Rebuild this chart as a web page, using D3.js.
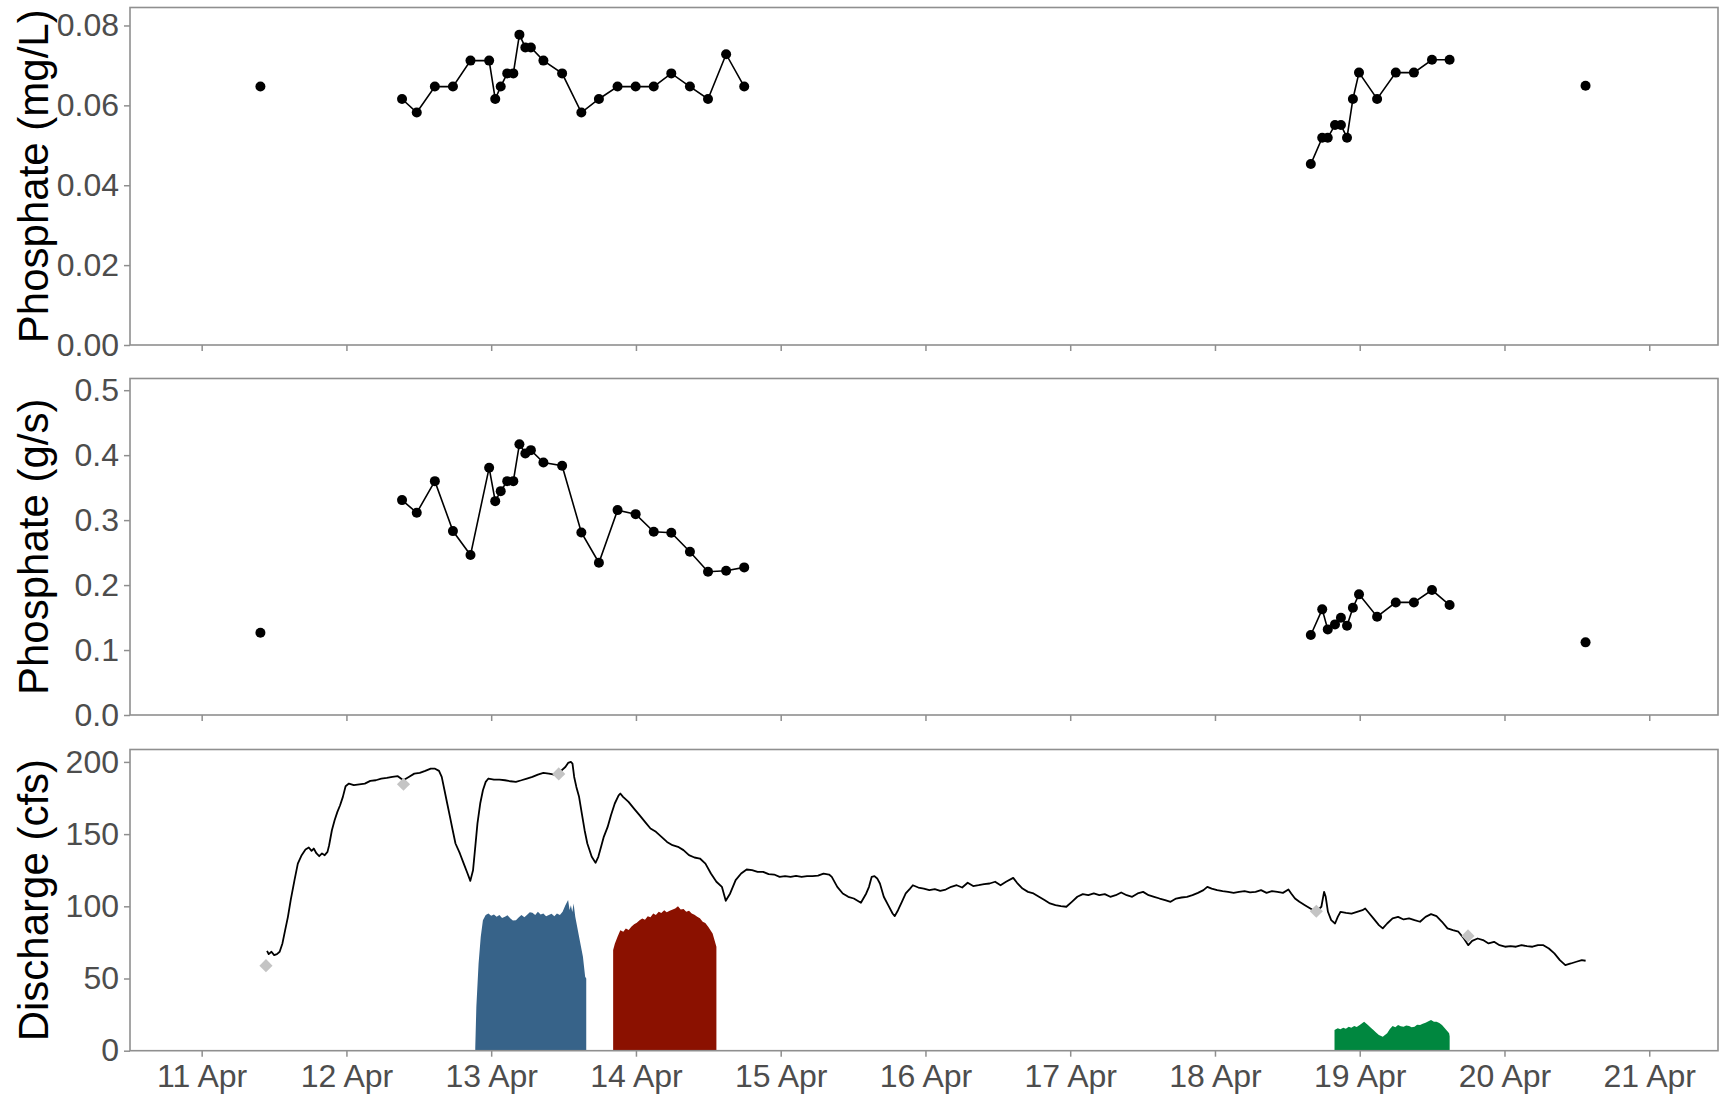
<!DOCTYPE html>
<html>
<head>
<meta charset="utf-8">
<script src="https://cdn.jsdelivr.net/npm/d3@7"></script>
<style>
  body { margin: 0; background: #fff; }
  svg text { font-family: "Liberation Sans", Arial, Helvetica, sans-serif; }
</style>
</head>
<body>
<svg id="chart" width="1720" height="1097"></svg>
<script>
// ---- time reference: all times are hours after 11 Apr 00:00 ----
const baseTime = new Date(2019, 3, 11, 0, 0);
const xStart = new Date(2019, 3, 10, 12, 7);
const xEnd = new Date(2019, 3, 21, 11, 24);
const tickDays = [11, 12, 13, 14, 15, 16, 17, 18, 19, 20, 21];

// ---- grab samples ----
const sampleHours = [
  9.74,
  33.22, 35.66, 38.66, 41.66, 44.57, 47.66, 48.67, 49.58, 50.66, 51.67, 52.68, 53.66,
  54.58, 56.66, 59.76, 62.95, 65.86, 68.95, 71.95, 74.95, 77.86, 80.95, 83.95, 86.95, 89.95,
  183.89, 185.78, 186.70, 187.90, 188.88, 189.89, 190.87, 191.88, 194.88, 197.98, 200.98, 203.98, 206.90,
  229.44
];
// which connected run each sample belongs to
const sampleRun = [
  0,
  1, 1, 1, 1, 1, 1, 1, 1, 1, 1, 1, 1, 1, 1, 1, 1, 1, 1, 1, 1, 1, 1, 1, 1, 1,
  2, 2, 2, 2, 2, 2, 2, 2, 2, 2, 2, 2, 2,
  3
];
const phosphateConc = [
  0.0647,
  0.0616, 0.0582, 0.0647, 0.0647, 0.0712, 0.0712, 0.0616, 0.0647, 0.0680, 0.0680, 0.0777, 0.0745,
  0.0745, 0.0712, 0.0680, 0.0582, 0.0616, 0.0647, 0.0647, 0.0647, 0.0680, 0.0647, 0.0616, 0.0728, 0.0647,
  0.0453, 0.0519, 0.0519, 0.0551, 0.0551, 0.0519, 0.0616, 0.0682, 0.0616, 0.0682, 0.0682, 0.0714, 0.0714,
  0.0649
];
const phosphateLoad = [
  0.1266,
  0.3308, 0.3113, 0.3600, 0.2831, 0.2462, 0.3805, 0.3292, 0.3446, 0.3600, 0.3600, 0.4169, 0.4026,
  0.4077, 0.3887, 0.3836, 0.2810, 0.2344, 0.3154, 0.3092, 0.2820, 0.2805, 0.2513, 0.2205, 0.2220, 0.2272,
  0.1231, 0.1626, 0.1318, 0.1395, 0.1497, 0.1374, 0.1651, 0.1857, 0.1513, 0.1733, 0.1733, 0.1923, 0.1692,
  0.1118
];

// ---- stream discharge record ----
const dischargeHours = [
  10.84, 11.11, 11.57, 12.02, 12.48, 12.93, 13.39, 13.84, 14.30, 14.76, 15.39, 15.94, 16.58, 17.21, 17.76,
  18.22, 18.58, 19.04, 19.49, 19.95, 20.40, 20.86, 21.13, 21.59, 22.04, 22.50, 22.95, 23.41, 23.86, 24.41,
  25.23, 26.14, 27.05, 27.96, 28.87, 29.78, 30.70, 31.61, 32.52, 33.43, 34.34, 35.25, 36.16, 37.07, 37.98,
  38.62, 39.35, 39.80, 40.26, 40.71, 41.17, 41.62, 42.08, 42.81, 43.45, 44.08, 44.54, 44.99, 45.36, 45.72,
  46.18, 46.63, 47.09, 47.54, 48.46, 49.37, 50.28, 51.19, 52.10, 53.01, 53.92, 54.83, 55.74, 56.65, 57.56,
  58.47, 59.39, 60.30, 60.75, 61.21, 61.48, 61.76, 62.12, 62.57, 63.03, 63.49, 63.94, 64.67, 65.30, 65.76,
  66.22, 66.67, 67.31, 67.86, 68.49, 69.13, 69.41, 69.86, 70.77, 71.68, 72.59, 73.50, 74.41, 75.32, 76.24,
  77.15, 78.06, 78.97, 79.88, 80.79, 81.70, 82.61, 83.52, 84.43, 85.34, 86.25, 86.89, 87.62, 88.53, 89.44,
  90.35, 91.26, 92.17, 93.09, 94.00, 94.91, 95.82, 96.73, 97.64, 98.55, 99.46, 100.37, 101.28, 102.19, 103.10,
  104.02, 104.47, 105.38, 106.29, 107.20, 108.12, 109.30, 110.18, 110.64, 111.09, 111.55, 112.00, 112.45, 113.09, 113.82,
  114.55, 114.91, 115.45, 116.09, 116.73, 117.45, 117.91, 118.82, 119.73, 120.64, 121.55, 122.45, 123.36, 124.27, 125.18,
  126.09, 127.00, 127.91, 128.82, 129.73, 130.64, 131.55, 132.45, 133.36, 134.55, 135.18, 136.09, 137.00, 137.91, 138.82,
  139.73, 140.64, 141.55, 142.45, 143.36, 144.27, 145.18, 146.09, 147.00, 147.91, 148.82, 149.73, 150.64, 151.55, 152.45,
  153.36, 154.27, 155.18, 156.09, 157.00, 157.91, 158.82, 159.73, 160.64, 161.55, 162.45, 163.36, 164.27, 165.18, 166.09,
  166.73, 167.45, 168.36, 169.27, 170.18, 171.09, 172.00, 172.91, 173.82, 174.73, 175.64, 176.55, 177.45, 178.36, 179.27,
  180.18, 180.64, 181.27, 182.00, 182.91, 183.82, 184.73, 185.64, 186.09, 186.36, 186.73, 187.27, 187.91, 188.36, 188.82,
  189.73, 190.64, 191.55, 192.45, 192.91, 193.36, 194.27, 195.18, 195.82, 196.55, 197.45, 198.36, 199.27, 200.18, 201.09,
  202.00, 202.91, 203.82, 204.73, 205.64, 206.55, 207.45, 208.36, 209.27, 210.00, 210.64, 211.55, 212.45, 213.36, 214.27,
  215.18, 216.09, 217.00, 217.91, 218.82, 219.73, 220.64, 221.55, 222.45, 223.36, 224.27, 225.18, 226.09, 227.00, 227.91,
  228.82, 229.45
];
const dischargeCfs = [
  69.2, 66.9, 68.5, 66.2, 66.9, 68.5, 74.3, 83.5, 92.7, 104.3, 118.1, 129.6, 135.4, 139.3, 140.7,
  138.4, 140.0, 136.6, 134.7, 136.6, 135.4, 137.7, 142.3, 152.7, 159.6, 165.4, 170.0, 175.8, 183.2, 185.0,
  183.9, 184.5, 185.0, 186.9, 187.3, 188.5, 188.9, 189.6, 190.1, 187.3, 189.6, 191.9, 192.4, 193.8, 195.4,
  195.4, 193.8, 189.6, 180.4, 171.2, 161.9, 152.7, 143.5, 136.6, 129.6, 122.7, 117.6, 125.0, 141.2, 157.3,
  171.2, 180.4, 186.2, 188.5, 187.8, 187.8, 187.3, 186.6, 186.2, 187.3, 188.5, 189.6, 191.2, 192.4, 191.9,
  191.2, 193.1, 196.5, 199.3, 200.0, 198.8, 189.6, 182.7, 175.8, 164.2, 152.7, 143.5, 134.3, 130.1, 134.3,
  141.2, 148.1, 155.0, 163.1, 171.2, 176.9, 178.1, 175.8, 172.3, 167.7, 163.1, 158.5, 153.9, 151.6, 148.1,
  144.6, 142.3, 141.2, 138.9, 135.4, 133.8, 133.1, 129.6, 122.7, 117.0, 113.5, 103.8, 108.9, 118.1, 122.7,
  125.5, 125.0, 123.9, 123.9, 122.3, 122.0, 120.4, 120.9, 120.4, 121.1, 120.4, 120.9, 120.9, 121.3, 122.7,
  122.0, 120.4, 113.5, 108.9, 106.6, 105.4, 102.5, 108.9, 113.5, 120.4, 120.9, 119.3, 115.8, 106.6, 100.8,
  95.0, 93.2, 97.3, 103.1, 108.9, 112.3, 114.6, 113.0, 112.3, 111.2, 111.9, 110.7, 111.6, 113.5, 114.6,
  113.0, 116.3, 114.0, 114.6, 115.3, 115.8, 117.0, 114.6, 117.0, 119.7, 116.3, 112.3, 110.0, 108.9, 106.6,
  104.3, 102.0, 100.8, 100.1, 99.7, 103.1, 106.6, 108.4, 107.7, 108.9, 107.7, 108.4, 106.6, 107.7, 109.6,
  107.7, 106.6, 108.9, 110.0, 107.7, 106.6, 105.4, 104.3, 103.1, 105.4, 106.1, 106.6, 107.7, 109.3, 111.2,
  113.5, 112.3, 111.2, 110.5, 110.0, 109.3, 110.0, 110.5, 109.6, 110.0, 111.2, 109.3, 110.5, 110.0, 109.3,
  111.6, 108.9, 105.4, 103.1, 100.8, 98.5, 96.2, 99.7, 110.0, 106.6, 96.2, 90.4, 88.1, 92.7, 96.2,
  95.5, 95.0, 96.2, 97.3, 98.5, 96.2, 91.6, 87.0, 84.7, 88.1, 91.6, 92.7, 90.9, 91.6, 90.4,
  89.3, 92.7, 94.6, 93.2, 89.3, 84.7, 83.5, 82.4, 77.7, 73.1, 76.1, 77.7, 76.6, 74.3, 75.4,
  73.1, 72.0, 72.4, 72.0, 73.1, 72.4, 72.0, 73.1, 73.1, 70.8, 67.4, 62.7, 59.3, 60.4, 61.6,
  62.7, 62.3
];

// ---- discharge at grab-sample checks ----
const checkHours = [10.66, 33.46, 59.2, 184.8, 209.95];
const checkCfs = [58.9, 184.5, 191.7, 96.6, 79.5];

// ---- sampler pumping runs ----
const runBlueHours = [45.36, 45.54, 45.91, 46.27, 46.63, 47.09, 47.54, 48.0, 48.46, 48.9, 49.37, 49.8, 50.28, 50.7, 51.19,
  51.6, 52.10, 52.55, 53.01, 53.5, 53.92, 54.4, 54.83, 55.3, 55.74, 56.2, 56.65, 57.1, 57.56, 58.0, 58.47, 58.9, 59.39,
  59.84, 60.30, 60.75, 61.0, 61.21, 61.45, 61.66, 61.94, 62.57, 63.21, 63.58, 63.76];
const runBlueCfs = [2.0, 30.5, 60.4, 78.9, 90.4, 93.9, 95.0, 93.4, 94.4, 92.8, 93.9, 91.9, 92.7, 93.8, 91.6,
  90.2, 90.4, 92.3, 93.9, 92.5, 93.9, 95.8, 95.5, 94.0, 96.2, 94.4, 95.0, 93.2, 93.9, 94.8, 93.2, 95.1, 93.9,
  96.2, 100.8, 104.3, 97.5, 100.8, 96.0, 102.0, 92.7, 78.9, 65.1, 51.2, 50.0];
const runRedHours = [68.22, 68.5, 68.95, 69.41, 69.9, 70.32, 70.8, 71.23, 71.7, 72.14, 72.6, 73.05, 73.5, 73.96, 74.4,
  74.87, 75.3, 75.78, 76.2, 76.69, 77.1, 77.60, 78.0, 78.51, 78.97, 79.42, 79.9, 80.34, 80.8, 81.25, 81.7, 82.16,
  82.6, 83.07, 83.5, 83.98, 84.71, 85.34];
const runRedCfs = [69.7, 74.0, 78.9, 83.5, 82.3, 84.7, 83.6, 85.8, 87.5, 88.6, 90.4, 91.6, 90.7, 93.2, 92.5,
  95.0, 94.0, 96.2, 95.4, 97.3, 95.8, 96.9, 97.6, 98.5, 100.1, 97.8, 98.2, 96.2, 96.9, 95.0, 94.1, 92.7,
  91.8, 89.3, 88.4, 85.8, 81.2, 72.0];
const runGreenHours = [187.82, 188.36, 188.8, 189.27, 189.7, 190.18, 190.6, 191.09, 191.5, 192.0, 192.73, 193.36,
  193.8, 194.27, 194.7, 195.18, 195.82, 196.55, 197.0, 197.45, 197.9, 198.36, 198.8, 199.27, 199.7, 200.18, 200.6,
  201.09, 201.5, 202.0, 202.45, 202.91, 203.4, 203.82, 204.3, 204.73, 205.2, 205.64, 206.0, 206.36, 206.82, 206.91];
const runGreenCfs = [14.3, 15.5, 14.8, 15.9, 15.2, 16.6, 15.9, 17.1, 16.4, 17.8, 20.1, 17.8,
  16.0, 14.3, 12.6, 10.8, 9.7, 12.0, 15.0, 17.1, 16.2, 17.8, 16.9, 16.6, 17.5, 17.1, 16.2,
  16.6, 17.9, 17.8, 18.6, 19.4, 20.4, 21.2, 20.0, 20.1, 19.2, 17.8, 16.0, 14.3, 12.0, 10.0];

// ---- y-axis ticks per panel ----
const concTicks = [0, 0.02, 0.04, 0.06, 0.08];
const loadTicks = [0, 0.1, 0.2, 0.3, 0.4, 0.5];
const flowTicks = [0, 50, 100, 150, 200];

const hoursToDate = h => new Date(baseTime.getTime() + h * 3600e3);

const svg = d3.select("#chart");
svg.append("rect").attr("width", 1720).attr("height", 1097).attr("fill", "#fff");

const left = 130, right = 1718;
const x = d3.scaleTime().domain([xStart, xEnd]).range([left, right]);
const xTicks = tickDays.map(d => new Date(2019, 3, d));

const panels = [
  { top: 7.5, bottom: 345, ymax: 0.0845, ticks: concTicks, fmt: d3.format(".2f"), title: "Phosphate (mg/L)" },
  { top: 378.5, bottom: 715, ymax: 0.518, ticks: loadTicks, fmt: d3.format(".1f"), title: "Phosphate (g/s)" },
  { top: 749.5, bottom: 1050.7, ymax: 208.6, ticks: flowTicks, fmt: d3.format("d"), title: "Discharge (cfs)" }
];

const gray = "#8f8f8f";
const tickText = "#4d4d4d";

panels.forEach((p, i) => {
  p.y = d3.scaleLinear().domain([0, p.ymax]).range([p.bottom, p.top]);
  const g = svg.append("g");

  // y axis
  const ya = g.append("g").attr("transform", `translate(${left},0)`)
    .call(d3.axisLeft(p.y).tickValues(p.ticks).tickFormat(p.fmt).tickSize(6).tickPadding(5).tickSizeOuter(0));
  ya.select(".domain").remove();
  ya.selectAll(".tick line").attr("stroke", gray).attr("stroke-width", 1.5);
  ya.selectAll(".tick text").attr("fill", tickText).attr("font-size", 32)
    .attr("font-family", "Liberation Sans, Arial, sans-serif");

  // x axis
  const xa = g.append("g").attr("transform", `translate(0,${p.bottom})`)
    .call(d3.axisBottom(x).tickValues(xTicks).tickFormat(i === 2 ? d3.timeFormat("%-d %b") : "")
      .tickSize(6).tickPadding(8).tickSizeOuter(0));
  xa.select(".domain").remove();
  xa.selectAll(".tick line").attr("stroke", gray).attr("stroke-width", 1.5);
  xa.selectAll(".tick text").attr("fill", tickText).attr("font-size", 32)
    .attr("font-family", "Liberation Sans, Arial, sans-serif");

  // axis title
  g.append("text")
    .attr("transform", `translate(48,${(p.top + p.bottom) / 2}) rotate(-90)`)
    .attr("text-anchor", "middle")
    .attr("font-size", 42)
    .attr("fill", "#000")
    .text(p.title);
});

// ---- sample panels ----
const samples = sampleHours.map((h, i) => ({
  t: hoursToDate(h), run: sampleRun[i], conc: phosphateConc[i], load: phosphateLoad[i]
}));
const runs = d3.groups(samples, d => d.run).map(r => r[1]);

[["conc", panels[0]], ["load", panels[1]]].forEach(([key, p]) => {
  const g = svg.append("g");
  const line = d3.line().x(d => x(d.t)).y(d => p.y(d[key]));
  g.selectAll("path.run").data(runs.filter(r => r.length > 1)).join("path")
    .attr("class", "run")
    .attr("d", line)
    .attr("fill", "none").attr("stroke", "#000").attr("stroke-width", 1.6);
  g.selectAll("circle").data(samples).join("circle")
    .attr("cx", d => x(d.t)).attr("cy", d => p.y(d[key])).attr("r", 5).attr("fill", "#000");
});

// ---- discharge panel ----
const pq = panels[2];
const areaOf = (hrs, vals) => {
  const pts = hrs.map((h, i) => ({ t: hoursToDate(h), v: vals[i] }));
  return d3.area().x(d => x(d.t)).y0(pq.y(0)).y1(d => pq.y(d.v))(pts);
};
svg.append("path").attr("d", areaOf(runBlueHours, runBlueCfs)).attr("fill", "#376389");
svg.append("path").attr("d", areaOf(runRedHours, runRedCfs)).attr("fill", "#8b1100");
svg.append("path").attr("d", areaOf(runGreenHours, runGreenCfs)).attr("fill", "#00873f");

const flow = dischargeHours.map((h, i) => ({ t: hoursToDate(h), v: dischargeCfs[i] }));
svg.append("path")
  .attr("d", d3.line().x(d => x(d.t)).y(d => pq.y(d.v))(flow))
  .attr("fill", "none").attr("stroke", "#000").attr("stroke-width", 1.8).attr("stroke-linejoin", "round");

const checks = checkHours.map((h, i) => ({ t: hoursToDate(h), v: checkCfs[i] }));
svg.append("g").selectAll("path").data(checks).join("path")
  .attr("d", d3.symbol().type(d3.symbolDiamond2).size(110))
  .attr("transform", d => `translate(${x(d.t)},${pq.y(d.v)})`)
  .attr("fill", "#c4c4c4");

// ---- panel borders ----
panels.forEach(p => {
  svg.append("rect")
    .attr("x", left).attr("y", p.top)
    .attr("width", right - left).attr("height", p.bottom - p.top)
    .attr("fill", "none").attr("stroke", gray).attr("stroke-width", 1.6);
});
</script>
</body>
</html>
